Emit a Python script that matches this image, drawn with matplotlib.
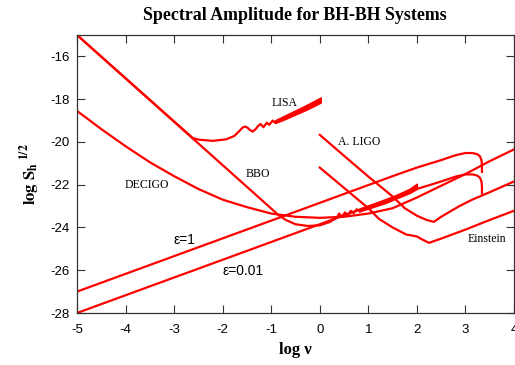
import numpy as np
import matplotlib
matplotlib.use("Agg")
import matplotlib.pyplot as plt

plt.rcParams['mathtext.fontset'] = 'stix'
plt.rcParams['axes.unicode_minus'] = False

RED = '#ff0000'
LW = 1.6

# ---------------- data ----------------
# BBO: steep low-frequency line, bucket, then wiggly high-frequency part
bbo_x = [-5.0, -0.85, -0.7, -0.5, -0.25, 0.0, 0.2, 0.35, 0.40, 0.45, 0.52, 0.58, 0.64, 0.70, 0.76, 0.82]
bbo_y = [-15.0, -23.42, -23.65, -23.85, -23.93, -23.9, -23.75, -23.55, -23.35, -23.5, -23.3, -23.42, -23.22, -23.33, -23.15, -23.25]
bbo_band_x = [0.82, 1.0, 1.36, 1.6, 1.84, 2.0]
bbo_band_lo = [-23.25, -23.12, -22.85, -22.62, -22.4, -22.2]
bbo_band_hi = [-23.12, -22.98, -22.7, -22.45, -22.2, -21.95]

# LISA: shares the steep line, bucket, then wiggles
lisa_x = [-5.0, -2.61, -2.47, -2.2, -1.93, -1.76, -1.66, -1.59, -1.54, -1.49, -1.44, -1.38, -1.32, -1.28, -1.22,
          -1.16, -1.09, -1.04, -0.97, -0.92]
lisa_y = [-15.0, -19.83, -19.9, -19.95, -19.88, -19.72, -19.5, -19.33, -19.28, -19.33, -19.44, -19.52, -19.4, -19.28, -19.16,
          -19.31, -19.1, -19.2, -19.0, -19.1]
lisa_band_x = [-0.92, -0.7, -0.5, -0.3, -0.1, 0.02]
lisa_band_lo = [-19.12, -18.92, -18.72, -18.52, -18.3, -18.16]
lisa_band_hi = [-18.98, -18.74, -18.52, -18.3, -18.06, -17.92]

# DECIGO
decigo_x = [-5.0, -4.5, -4.0, -3.5, -3.0, -2.5, -2.0, -1.5, -1.0, -0.5, 0.0, 0.5, 1.0, 1.5, 2.0, 2.5, 3.0, 3.5, 4.0]
decigo_y = [-18.55, -19.4, -20.2, -20.95, -21.6, -22.2, -22.7, -23.05, -23.35, -23.5, -23.55, -23.5, -23.35,
            -23.1, -22.6, -22.05, -21.5, -20.9, -20.35]

# Advanced LIGO
aligo_x = [0.0, 0.5, 1.0, 1.5, 1.75, 2.0, 2.2, 2.35, 2.5, 2.86, 3.13, 3.5, 4.0]
aligo_y = [-19.67, -20.65, -21.62, -22.55, -23.1, -23.45, -23.65, -23.74, -23.5, -23.02, -22.71, -22.35, -21.85]

# Einstein Telescope
et_x = [0.0, 0.5, 1.0, 1.22, 1.5, 1.78, 2.0, 2.1, 2.25, 2.5, 3.0, 3.5, 4.0]
et_y = [-21.2, -22.15, -23.1, -23.6, -24.0, -24.33, -24.42, -24.55, -24.72, -24.52, -24.1, -23.65, -23.22]

# BH-BH background, epsilon = 1
e1_x = [-5.0, 0.0, 1.5, 2.0, 2.5, 2.8, 3.0, 3.15, 3.25, 3.3, 3.33, 3.34, 3.34]
e1_y = [-27.0, -22.85, -21.6, -21.2, -20.85, -20.62, -20.52, -20.52, -20.58, -20.68, -20.85, -21.1, -21.4]

# BH-BH background, epsilon = 0.01
e2_x = [-5.0, 0.0, 1.5, 2.0, 2.5, 2.8, 3.0, 3.15, 3.25, 3.3, 3.33, 3.34, 3.34]
e2_y = [-28.0, -23.85, -22.6, -22.2, -21.85, -21.62, -21.52, -21.52, -21.58, -21.68, -21.85, -22.1, -22.4]

x_ticks = [-5, -4, -3, -2, -1, 0, 1, 2, 3, 4]
y_ticks = [-28, -26, -24, -22, -20, -18, -16]

labels = [("LISA", -0.72, -18.18), ("BBO", -1.28, -21.5), ("DECIGO", -3.56, -22.0),
          ("A. LIGO", 0.82, -20.0), ("Einstein", 3.44, -24.53)]
eps_labels = [("ε=1", -2.78, -24.58), ("ε=0.01", -1.58, -26.03)]

# ---------------- figure ----------------
fig = plt.figure(figsize=(5.15, 3.65), dpi=100)
ax = fig.add_axes([77/515, 1-313/365, (514-77)/515, (313-35)/365])

for xs, ys in [(bbo_x, bbo_y), (lisa_x, lisa_y), (decigo_x, decigo_y), (aligo_x, aligo_y),
               (et_x, et_y), (e1_x, e1_y), (e2_x, e2_y)]:
    ax.plot(xs, ys, color=RED, lw=LW, solid_joinstyle='round', clip_on=True)

for bx, lo, hi in [(bbo_band_x, bbo_band_lo, bbo_band_hi), (lisa_band_x, lisa_band_lo, lisa_band_hi)]:
    ax.fill_between(bx, lo, hi, color=RED, lw=1.0, edgecolor=RED)

serif = ['Liberation Serif', 'DejaVu Serif']
sans = ['Liberation Sans', 'DejaVu Sans']
for t, x, y in labels:
    ax.text(x, y, t, fontsize=8.5, family=serif, ha='center', va='center')
for t, x, y in eps_labels:
    ax.text(x, y, t, fontsize=10, family=sans, ha='center', va='center')

ax.set_xlim(-5, 4)
ax.set_ylim(-28, -15)
ax.set_xticks(x_ticks)
ax.set_yticks(y_ticks)
ax.tick_params(direction='in', length=6, width=0.8, top=True, right=True,
               labelsize=9.5, pad=5, color='#333333')
ax.tick_params(axis='x', pad=8)
for lab in ax.get_xticklabels() + ax.get_yticklabels():
    lab.set_family(sans)
for s in ax.spines.values():
    s.set_linewidth(0.9)
    s.set_color('#333333')

ax.set_xlabel('log ν', fontsize=12, family=serif, fontweight='bold', labelpad=4)
ax.set_ylabel(r'$\mathbf{log\ S_h}^{\ \mathbf{1/2}}$', fontsize=12, labelpad=6)
fig.text(295/515, 1-15/365, 'Spectral Amplitude for BH-BH Systems', fontsize=12.9,
         family=serif, fontweight='bold', ha='center', va='center')

fig.savefig('out.png', dpi=100)
